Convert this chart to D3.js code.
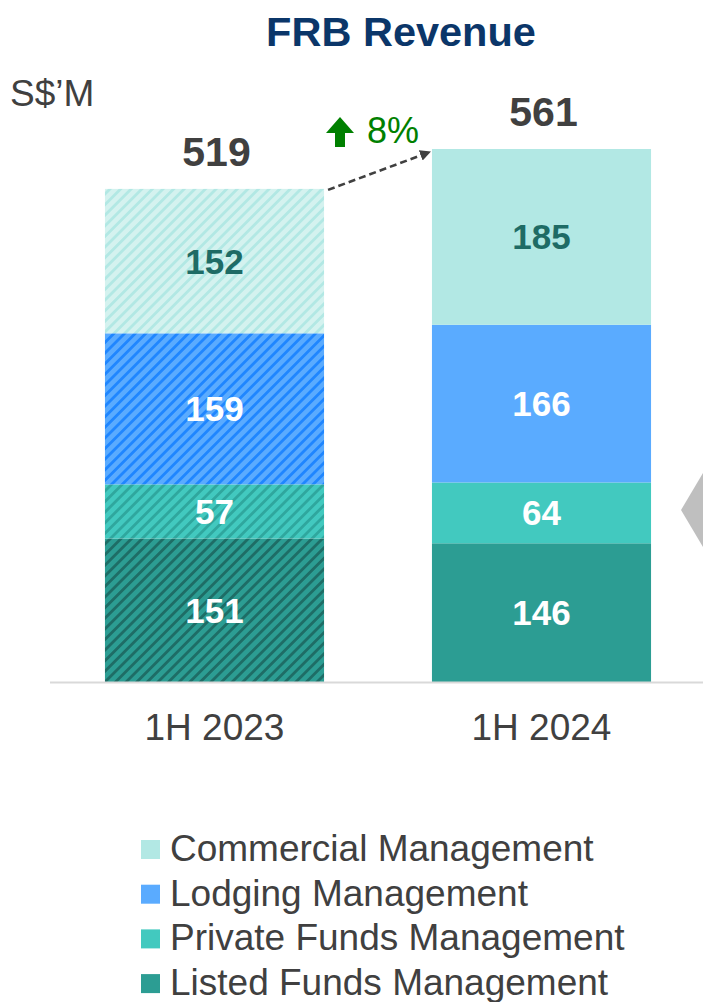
<!DOCTYPE html>
<html>
<head>
<meta charset="utf-8">
<script src="https://cdn.jsdelivr.net/npm/d3@7"></script>
<style>
  html, body { margin: 0; padding: 0; background: #fff; }
  svg { display: block; font-family: "Liberation Sans", Arial, sans-serif; }
</style>
</head>
<body>
<svg id="chart" width="703" height="1002"></svg>
<script>
// Revenue by business line, S$ millions
const categories = ["1H 2023", "1H 2024"];
const seriesNames = ["Listed Funds Management", "Private Funds Management", "Lodging Management", "Commercial Management"];
const listedFunds = [151, 146];
const privateFunds = [57, 64];
const lodging = [159, 166];
const commercial = [152, 185];
const totals = [519, 561];
const growthLabel = "8%";
const legendOrder = ["Commercial Management", "Lodging Management", "Private Funds Management", "Listed Funds Management"];

const seriesValues = {
  "Listed Funds Management": listedFunds,
  "Private Funds Management": privateFunds,
  "Lodging Management": lodging,
  "Commercial Management": commercial
};

const fill = {
  "Commercial Management": "#b2e8e4",
  "Lodging Management": "#5aabff",
  "Private Funds Management": "#42c9bf",
  "Listed Funds Management": "#2c9d93"
};
// hatched (prior period) versions: background + stripe colour
const hatch = {
  "Commercial Management": ["#d4f2ef", "#b2e8e4"],
  "Lodging Management": ["#5aabff", "#1f86ff"],
  "Private Funds Management": ["#42c9bf", "#2fa79e"],
  "Listed Funds Management": ["#2c9d93", "#1e6d66"]
};
const labelColor = {
  "Commercial Management": "#1e6b65",
  "Lodging Management": "#ffffff",
  "Private Funds Management": "#ffffff",
  "Listed Funds Management": "#ffffff"
};

const svg = d3.select("#chart");
const defs = svg.append("defs");

const keyId = k => k.replace(/\s+/g, "-");
seriesNames.forEach(k => {
  const p = defs.append("pattern")
    .attr("id", "hatch-" + keyId(k))
    .attr("patternUnits", "userSpaceOnUse")
    .attr("width", 7.5).attr("height", 7.5)
    .attr("patternTransform", "rotate(45)");
  p.append("rect").attr("width", 7.5).attr("height", 7.5).attr("fill", hatch[k][0]);
  p.append("rect").attr("x", 0).attr("width", 2.8).attr("height", 7.5).attr("fill", hatch[k][1]);
});

defs.append("marker")
  .attr("id", "arrowhead")
  .attr("viewBox", "0 0 10 10")
  .attr("refX", 9).attr("refY", 5)
  .attr("markerWidth", 4.2).attr("markerHeight", 4.2)
  .attr("orient", "auto")
  .append("path").attr("d", "M0,0 L10,5 L0,10 Z").attr("fill", "#404040");

// scales
const x = d3.scaleBand().domain(categories).range([51, 705]).paddingInner(0.33).paddingOuter(0.165);
const y = d3.scaleLinear().domain([0, d3.max(totals)]).range([682, 149]);

// stacked data
const rows = categories.map((c, i) => {
  const r = { cat: c, idx: i };
  seriesNames.forEach(k => r[k] = seriesValues[k][i]);
  return r;
});
const stacked = d3.stack().keys(seriesNames)(rows);

// title and unit
svg.append("text").attr("x", 401).attr("y", 46).attr("text-anchor", "middle")
  .attr("font-size", 41.5).attr("font-weight", "bold").attr("fill", "#0b3669").text("FRB Revenue");
svg.append("text").attr("x", 10).attr("y", 106)
  .attr("font-size", 37).attr("fill", "#404040").text("S$\u2019M");

// bars
const layers = svg.append("g").selectAll("g").data(stacked).join("g");
layers.selectAll("rect").data(d => d.map(v => ({ key: d.key, v })))
  .join("rect")
  .attr("x", d => x(d.v.data.cat))
  .attr("width", x.bandwidth())
  .attr("y", d => y(d.v[1]))
  .attr("height", d => y(d.v[0]) - y(d.v[1]))
  .attr("fill", d => d.v.data.idx === 0 ? "url(#hatch-" + keyId(d.key) + ")" : fill[d.key]);

// segment labels
layers.selectAll("text").data(d => d.map(v => ({ key: d.key, v })))
  .join("text")
  .attr("x", d => x(d.v.data.cat) + x.bandwidth() / 2)
  .attr("y", d => (y(d.v[0]) + y(d.v[1])) / 2)
  .attr("dy", "0.36em")
  .attr("text-anchor", "middle")
  .attr("font-size", 35).attr("font-weight", "bold")
  .attr("fill", d => labelColor[d.key])
  .text(d => d.v.data[d.key]);

// totals
svg.append("g").selectAll("text").data(categories).join("text")
  .attr("x", c => x(c) + x.bandwidth() / 2 + 2)
  .attr("y", (c, i) => y(totals[i]) - 23)
  .attr("text-anchor", "middle")
  .attr("font-size", 41).attr("font-weight", "bold").attr("fill", "#404040")
  .text((c, i) => totals[i]);

// baseline
svg.append("line").attr("x1", 50).attr("x2", 703).attr("y1", 682.5).attr("y2", 682.5)
  .attr("stroke", "#d9d9d9").attr("stroke-width", 2);

// category labels
svg.append("g").selectAll("text").data(categories).join("text")
  .attr("x", c => x(c) + x.bandwidth() / 2)
  .attr("y", 740)
  .attr("text-anchor", "middle")
  .attr("font-size", 37).attr("fill", "#404040")
  .text(c => c);

// growth connector
const c0 = categories[0], c1 = categories[1];
svg.append("line")
  .attr("x1", x(c0) + x.bandwidth() + 4).attr("y1", y(totals[0]) + 1)
  .attr("x2", x(c1) - 2).attr("y2", y(totals[1]) + 3)
  .attr("stroke", "#404040").attr("stroke-width", 2.6)
  .attr("stroke-dasharray", "7,4")
  .attr("marker-end", "url(#arrowhead)");

// green up arrow + growth %
svg.append("path")
  .attr("d", "M340,117 L354,133 L345,133 L345,147 L335,147 L335,133 L326,133 Z")
  .attr("fill", "#008000");
svg.append("text").attr("x", 367).attr("y", 143)
  .attr("font-size", 36).attr("fill", "#008000").text(growthLabel);

// side chevron
svg.append("path").attr("d", "M681,510 L703,473 L703,547 Z").attr("fill", "#bfbfbf");

// legend
const legend = svg.append("g").selectAll("g").data(legendOrder).join("g")
  .attr("transform", (d, i) => `translate(141, ${840 + i * 44.7})`);
legend.append("rect").attr("width", 19).attr("height", 19).attr("fill", d => fill[d]);
legend.append("text").attr("x", 29).attr("y", 21)
  .attr("font-size", 37).attr("fill", "#404040").text(d => d);
</script>
</body>
</html>
